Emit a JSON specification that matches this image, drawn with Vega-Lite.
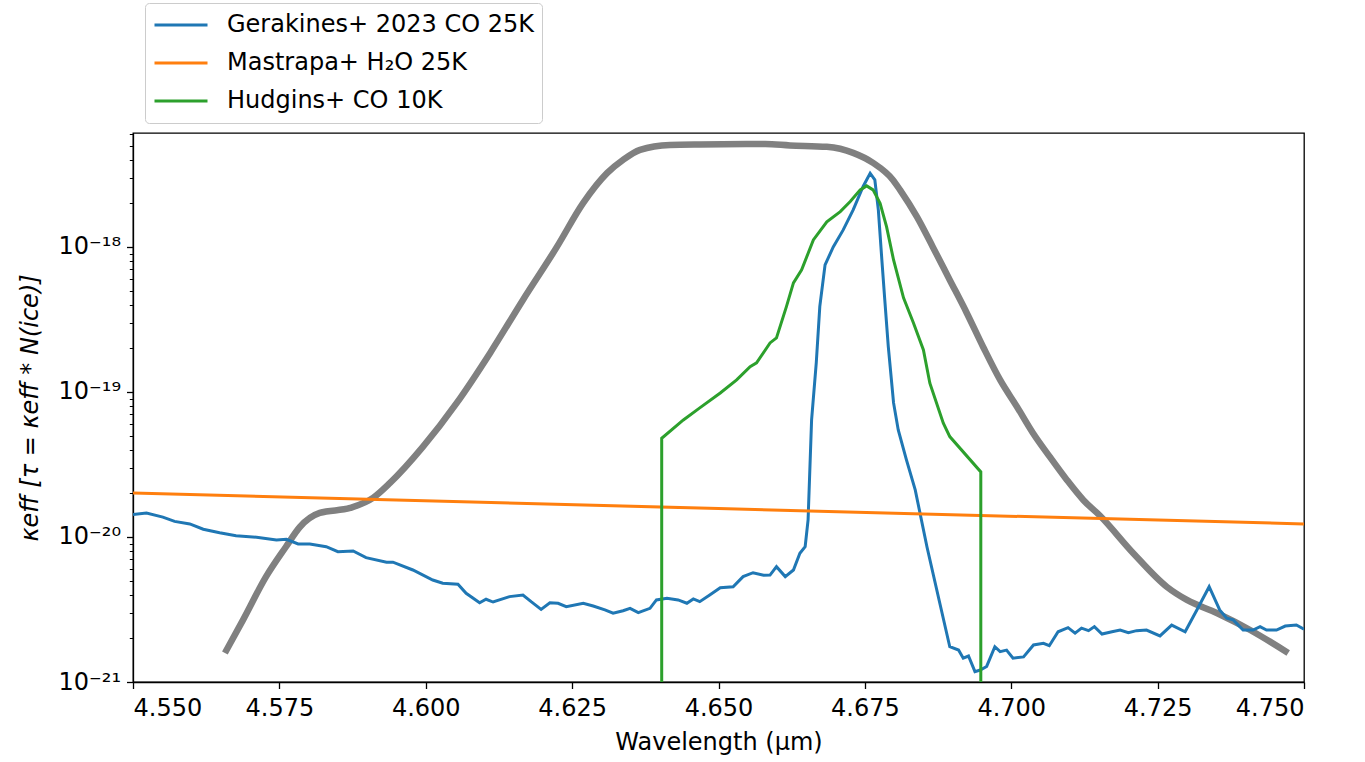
{
  "$schema": "https://vega.github.io/schema/vega-lite/v6.json",
  "width": 1171,
  "height": 549,
  "autosize": {"type": "none"},
  "padding": {"left": 133, "top": 133, "right": 61, "bottom": 80},
  "background": "white",
  "config": {
    "font": "DejaVu Sans",
    "view": {"stroke": "black", "strokeWidth": 1.3},
    "axis": {
      "grid": false,
      "domainColor": "black",
      "domainWidth": 1.3,
      "tickColor": "black",
      "tickWidth": 1.3,
      "labelColor": "black",
      "labelFont": "DejaVu Sans",
      "labelFontSize": 24,
      "titleFont": "DejaVu Sans",
      "titleFontSize": 24,
      "titleFontWeight": "normal",
      "titleColor": "black",
      "labelOverlap": false
    },
    "legend": {
      "labelFont": "DejaVu Sans",
      "labelFontSize": 24,
      "labelColor": "black",
      "labelLimit": 600
    }
  },
  "datasets": {
    "filter": [
      {"wavelength": 4.5657, "kappa": 1.585e-21},
      {"wavelength": 4.5688, "kappa": 2.68e-21},
      {"wavelength": 4.5727, "kappa": 5.30e-21},
      {"wavelength": 4.5761, "kappa": 8.53e-21},
      {"wavelength": 4.5785, "kappa": 1.172e-20},
      {"wavelength": 4.5819, "kappa": 1.464e-20},
      {"wavelength": 4.5871, "kappa": 1.585e-20},
      {"wavelength": 4.5910, "kappa": 1.858e-20},
      {"wavelength": 4.5939, "kappa": 2.357e-20},
      {"wavelength": 4.5995, "kappa": 4.175e-20},
      {"wavelength": 4.6053, "kappa": 8.40e-20},
      {"wavelength": 4.6110, "kappa": 1.858e-19},
      {"wavelength": 4.6166, "kappa": 4.31e-19},
      {"wavelength": 4.6224, "kappa": 1.0e-18},
      {"wavelength": 4.6269, "kappa": 2.011e-18},
      {"wavelength": 4.6310, "kappa": 3.238e-18},
      {"wavelength": 4.6337, "kappa": 3.981e-18},
      {"wavelength": 4.6366, "kappa": 4.667e-18},
      {"wavelength": 4.6417, "kappa": 5.05e-18},
      {"wavelength": 4.6468, "kappa": 5.09e-18},
      {"wavelength": 4.6580, "kappa": 5.12e-18},
      {"wavelength": 4.6622, "kappa": 5.01e-18},
      {"wavelength": 4.6685, "kappa": 4.895e-18},
      {"wavelength": 4.6730, "kappa": 4.45e-18},
      {"wavelength": 4.6764, "kappa": 3.795e-18},
      {"wavelength": 4.6798, "kappa": 2.897e-18},
      {"wavelength": 4.6810, "kappa": 2.473e-18},
      {"wavelength": 4.6839, "kappa": 1.61e-18},
      {"wavelength": 4.6866, "kappa": 1.0e-18},
      {"wavelength": 4.6895, "kappa": 5.92e-19},
      {"wavelength": 4.6924, "kappa": 3.505e-19},
      {"wavelength": 4.6952, "kappa": 2.043e-19},
      {"wavelength": 4.6981, "kappa": 1.21e-19},
      {"wavelength": 4.7010, "kappa": 7.88e-20},
      {"wavelength": 4.7037, "kappa": 5.215e-20},
      {"wavelength": 4.7066, "kappa": 3.562e-20},
      {"wavelength": 4.7095, "kappa": 2.473e-20},
      {"wavelength": 4.7123, "kappa": 1.80e-20},
      {"wavelength": 4.7152, "kappa": 1.395e-20},
      {"wavelength": 4.7208, "kappa": 7.76e-21},
      {"wavelength": 4.7266, "kappa": 4.52e-21},
      {"wavelength": 4.7300, "kappa": 3.68e-21},
      {"wavelength": 4.7351, "kappa": 2.99e-21},
      {"wavelength": 4.7408, "kappa": 2.284e-21},
      {"wavelength": 4.7473, "kappa": 1.585e-21}
    ],
    "gerakines": [
      {"wavelength": 4.55, "kappa": 1.43e-20},
      {"wavelength": 4.5523, "kappa": 1.46e-20},
      {"wavelength": 4.5551, "kappa": 1.37e-20},
      {"wavelength": 4.5571, "kappa": 1.28e-20},
      {"wavelength": 4.5597, "kappa": 1.23e-20},
      {"wavelength": 4.5620, "kappa": 1.13e-20},
      {"wavelength": 4.5648, "kappa": 1.07e-20},
      {"wavelength": 4.5676, "kappa": 1.02e-20},
      {"wavelength": 4.5711, "kappa": 9.95e-21},
      {"wavelength": 4.5745, "kappa": 9.53e-21},
      {"wavelength": 4.5762, "kappa": 9.64e-21},
      {"wavelength": 4.5782, "kappa": 8.95e-21},
      {"wavelength": 4.5802, "kappa": 8.95e-21},
      {"wavelength": 4.5830, "kappa": 8.57e-21},
      {"wavelength": 4.5850, "kappa": 7.92e-21},
      {"wavelength": 4.5876, "kappa": 8.0e-21},
      {"wavelength": 4.5898, "kappa": 7.2e-21},
      {"wavelength": 4.5933, "kappa": 6.69e-21},
      {"wavelength": 4.5944, "kappa": 6.7e-21},
      {"wavelength": 4.5978, "kappa": 5.92e-21},
      {"wavelength": 4.6012, "kappa": 5.05e-21},
      {"wavelength": 4.6029, "kappa": 4.8e-21},
      {"wavelength": 4.6055, "kappa": 4.72e-21},
      {"wavelength": 4.6069, "kappa": 4.09e-21},
      {"wavelength": 4.6092, "kappa": 3.52e-21},
      {"wavelength": 4.6103, "kappa": 3.72e-21},
      {"wavelength": 4.6115, "kappa": 3.56e-21},
      {"wavelength": 4.6143, "kappa": 3.88e-21},
      {"wavelength": 4.6166, "kappa": 3.98e-21},
      {"wavelength": 4.6180, "kappa": 3.58e-21},
      {"wavelength": 4.6197, "kappa": 3.17e-21},
      {"wavelength": 4.6212, "kappa": 3.52e-21},
      {"wavelength": 4.6226, "kappa": 3.49e-21},
      {"wavelength": 4.6240, "kappa": 3.31e-21},
      {"wavelength": 4.6269, "kappa": 3.49e-21},
      {"wavelength": 4.6286, "kappa": 3.34e-21},
      {"wavelength": 4.6306, "kappa": 3.14e-21},
      {"wavelength": 4.6320, "kappa": 2.98e-21},
      {"wavelength": 4.6337, "kappa": 3.1e-21},
      {"wavelength": 4.6349, "kappa": 3.22e-21},
      {"wavelength": 4.6363, "kappa": 3.01e-21},
      {"wavelength": 4.6383, "kappa": 3.22e-21},
      {"wavelength": 4.6394, "kappa": 3.68e-21},
      {"wavelength": 4.6412, "kappa": 3.78e-21},
      {"wavelength": 4.6431, "kappa": 3.68e-21},
      {"wavelength": 4.6446, "kappa": 3.49e-21},
      {"wavelength": 4.6457, "kappa": 3.74e-21},
      {"wavelength": 4.6468, "kappa": 3.58e-21},
      {"wavelength": 4.6485, "kappa": 3.98e-21},
      {"wavelength": 4.6503, "kappa": 4.47e-21},
      {"wavelength": 4.6525, "kappa": 4.54e-21},
      {"wavelength": 4.6542, "kappa": 5.33e-21},
      {"wavelength": 4.6559, "kappa": 5.67e-21},
      {"wavelength": 4.6577, "kappa": 5.45e-21},
      {"wavelength": 4.6588, "kappa": 5.46e-21},
      {"wavelength": 4.6599, "kappa": 6.24e-21},
      {"wavelength": 4.6614, "kappa": 5.33e-21},
      {"wavelength": 4.6628, "kappa": 5.92e-21},
      {"wavelength": 4.6639, "kappa": 7.72e-21},
      {"wavelength": 4.6648, "kappa": 8.57e-21},
      {"wavelength": 4.6653, "kappa": 1.31e-20},
      {"wavelength": 4.6659, "kappa": 6.41e-20},
      {"wavelength": 4.6667, "kappa": 1.59e-19},
      {"wavelength": 4.6673, "kappa": 3.88e-19},
      {"wavelength": 4.6682, "kappa": 7.51e-19},
      {"wavelength": 4.6696, "kappa": 1.0e-18},
      {"wavelength": 4.6713, "kappa": 1.31e-18},
      {"wavelength": 4.6730, "kappa": 1.8e-18},
      {"wavelength": 4.6747, "kappa": 2.61e-18},
      {"wavelength": 4.6759, "kappa": 3.22e-18},
      {"wavelength": 4.6767, "kappa": 2.9e-18},
      {"wavelength": 4.6773, "kappa": 1.8e-18},
      {"wavelength": 4.6779, "kappa": 8.13e-19},
      {"wavelength": 4.6784, "kappa": 4.31e-19},
      {"wavelength": 4.6790, "kappa": 2.05e-19},
      {"wavelength": 4.6799, "kappa": 8.4e-20},
      {"wavelength": 4.6807, "kappa": 5.47e-20},
      {"wavelength": 4.6821, "kappa": 3.4e-20},
      {"wavelength": 4.6836, "kappa": 2.11e-20},
      {"wavelength": 4.6856, "kappa": 8.57e-21},
      {"wavelength": 4.6878, "kappa": 3.49e-21},
      {"wavelength": 4.6895, "kappa": 1.75e-21},
      {"wavelength": 4.6910, "kappa": 1.66e-21},
      {"wavelength": 4.6918, "kappa": 1.46e-21},
      {"wavelength": 4.6927, "kappa": 1.51e-21},
      {"wavelength": 4.6938, "kappa": 1.18e-21},
      {"wavelength": 4.6947, "kappa": 1.21e-21},
      {"wavelength": 4.6958, "kappa": 1.28e-21},
      {"wavelength": 4.6972, "kappa": 1.75e-21},
      {"wavelength": 4.6981, "kappa": 1.62e-21},
      {"wavelength": 4.6992, "kappa": 1.66e-21},
      {"wavelength": 4.7003, "kappa": 1.46e-21},
      {"wavelength": 4.7021, "kappa": 1.49e-21},
      {"wavelength": 4.7038, "kappa": 1.8e-21},
      {"wavelength": 4.7055, "kappa": 1.85e-21},
      {"wavelength": 4.7065, "kappa": 1.78e-21},
      {"wavelength": 4.7080, "kappa": 2.22e-21},
      {"wavelength": 4.7097, "kappa": 2.37e-21},
      {"wavelength": 4.7109, "kappa": 2.17e-21},
      {"wavelength": 4.7120, "kappa": 2.35e-21},
      {"wavelength": 4.7132, "kappa": 2.26e-21},
      {"wavelength": 4.7142, "kappa": 2.41e-21},
      {"wavelength": 4.7155, "kappa": 2.14e-21},
      {"wavelength": 4.7172, "kappa": 2.22e-21},
      {"wavelength": 4.7186, "kappa": 2.28e-21},
      {"wavelength": 4.7200, "kappa": 2.19e-21},
      {"wavelength": 4.7214, "kappa": 2.26e-21},
      {"wavelength": 4.7231, "kappa": 2.28e-21},
      {"wavelength": 4.7254, "kappa": 2.08e-21},
      {"wavelength": 4.7274, "kappa": 2.47e-21},
      {"wavelength": 4.7297, "kappa": 2.22e-21},
      {"wavelength": 4.7317, "kappa": 3.14e-21},
      {"wavelength": 4.7338, "kappa": 4.54e-21},
      {"wavelength": 4.7356, "kappa": 3.14e-21},
      {"wavelength": 4.7368, "kappa": 2.75e-21},
      {"wavelength": 4.7379, "kappa": 2.68e-21},
      {"wavelength": 4.7396, "kappa": 2.28e-21},
      {"wavelength": 4.7413, "kappa": 2.28e-21},
      {"wavelength": 4.7425, "kappa": 2.41e-21},
      {"wavelength": 4.7436, "kappa": 2.28e-21},
      {"wavelength": 4.7453, "kappa": 2.28e-21},
      {"wavelength": 4.7468, "kappa": 2.43e-21},
      {"wavelength": 4.7487, "kappa": 2.47e-21},
      {"wavelength": 4.75, "kappa": 2.31e-21}
    ],
    "mastrapa": [
      {"wavelength": 4.55, "kappa": 2.01e-20},
      {"wavelength": 4.65, "kappa": 1.57e-20},
      {"wavelength": 4.75, "kappa": 1.23e-20}
    ],
    "hudgins": [
      {"wavelength": 4.6403, "kappa": 1e-22},
      {"wavelength": 4.6403, "kappa": 4.795e-20},
      {"wavelength": 4.6440, "kappa": 6.41e-20},
      {"wavelength": 4.6468, "kappa": 7.76e-20},
      {"wavelength": 4.6503, "kappa": 9.84e-20},
      {"wavelength": 4.6531, "kappa": 1.21e-19},
      {"wavelength": 4.6554, "kappa": 1.494e-19},
      {"wavelength": 4.6565, "kappa": 1.585e-19},
      {"wavelength": 4.6588, "kappa": 2.177e-19},
      {"wavelength": 4.6599, "kappa": 2.357e-19},
      {"wavelength": 4.6616, "kappa": 3.875e-19},
      {"wavelength": 4.6628, "kappa": 5.645e-19},
      {"wavelength": 4.6642, "kappa": 6.94e-19},
      {"wavelength": 4.6662, "kappa": 1.118e-18},
      {"wavelength": 4.6685, "kappa": 1.487e-18},
      {"wavelength": 4.6708, "kappa": 1.751e-18},
      {"wavelength": 4.6725, "kappa": 2.053e-18},
      {"wavelength": 4.6742, "kappa": 2.473e-18},
      {"wavelength": 4.6753, "kappa": 2.635e-18},
      {"wavelength": 4.6764, "kappa": 2.473e-18},
      {"wavelength": 4.6776, "kappa": 2.0e-18},
      {"wavelength": 4.6787, "kappa": 1.38e-18},
      {"wavelength": 4.6799, "kappa": 8.13e-19},
      {"wavelength": 4.6816, "kappa": 4.45e-19},
      {"wavelength": 4.6833, "kappa": 2.99e-19},
      {"wavelength": 4.6850, "kappa": 1.949e-19},
      {"wavelength": 4.6861, "kappa": 1.148e-19},
      {"wavelength": 4.6884, "kappa": 6.085e-20},
      {"wavelength": 4.6895, "kappa": 4.92e-20},
      {"wavelength": 4.6948, "kappa": 2.808e-20},
      {"wavelength": 4.6948, "kappa": 1e-22}
    ]
  },
  "encoding": {
    "x": {
      "field": "wavelength",
      "type": "quantitative",
      "scale": {"domain": [4.55, 4.75], "nice": false, "zero": false},
      "axis": {
        "title": "Wavelength (μm)",
        "values": [4.55, 4.575, 4.6, 4.625, 4.65, 4.675, 4.7, 4.725, 4.75],
        "format": ".3f",
        "tickSize": 6.5,
        "labelPadding": 8,
        "titlePadding": 10
      }
    },
    "y": {
      "field": "kappa",
      "type": "quantitative",
      "scale": {"type": "log", "domain": [1e-21, 6.1e-18], "nice": false},
      "axis": {
        "title": "κeff [τ = κeff * N(ice)]",
        "titleFontStyle": "italic",
        "values": [1e-21, 2e-21, 3e-21, 4e-21, 5e-21, 6e-21, 7e-21, 8e-21, 9e-21,
                   1e-20, 2e-20, 3e-20, 4e-20, 5e-20, 6e-20, 7e-20, 8e-20, 9e-20,
                   1e-19, 2e-19, 3e-19, 4e-19, 5e-19, 6e-19, 7e-19, 8e-19, 9e-19,
                   1e-18, 2e-18, 3e-18, 4e-18, 5e-18, 6e-18],
        "labelExpr": "abs(log(datum.value)/LN10 - round(log(datum.value)/LN10)) > 0.001 ? '' : (round(log(datum.value)/LN10) == -21 ? '10⁻²¹' : round(log(datum.value)/LN10) == -20 ? '10⁻²⁰' : round(log(datum.value)/LN10) == -19 ? '10⁻¹⁹' : '10⁻¹⁸')",
        "tickSize": {"condition": {"test": "abs(log(datum.value)/LN10 - round(log(datum.value)/LN10)) < 0.001", "value": 6.5}, "value": 3.7},
        "tickWidth": {"condition": {"test": "abs(log(datum.value)/LN10 - round(log(datum.value)/LN10)) < 0.001", "value": 1.3}, "value": 1},
        "labelPadding": 6,
        "titlePadding": 16
      }
    },
    "order": {"value": null}
  },
  "layer": [
    {
      "data": {"name": "filter"},
      "mark": {"type": "line", "color": "#808080", "strokeWidth": 6.5, "clip": true, "interpolate": "monotone"}
    },
    {
      "data": {"name": "gerakines"},
      "mark": {"type": "line", "strokeWidth": 3, "clip": true},
      "encoding": {
        "color": {
          "datum": "Gerakines+ 2023 CO 25K",
          "type": "nominal",
          "scale": {
            "domain": ["Gerakines+ 2023 CO 25K", "Mastrapa+ H₂O 25K", "Hudgins+ CO 10K"],
            "range": ["#1f77b4", "#ff7f0e", "#2ca02c"]
          },
          "legend": {
            "title": null,
            "orient": "none",
            "legendX": 12,
            "legendY": -130,
            "symbolType": "stroke",
            "symbolSize": 2809,
            "symbolStrokeWidth": 3,
            "labelOffset": 18,
            "labelLimit": 600,
            "clipHeight": 28,
            "rowPadding": 10,
            "padding": 8,
            "strokeColor": "#cccccc",
            "fillColor": "white",
            "cornerRadius": 4
          }
        }
      }
    },
    {
      "data": {"name": "mastrapa"},
      "mark": {"type": "line", "strokeWidth": 3, "clip": true},
      "encoding": {"color": {"datum": "Mastrapa+ H₂O 25K", "type": "nominal"}}
    },
    {
      "data": {"name": "hudgins"},
      "mark": {"type": "line", "strokeWidth": 3, "clip": true},
      "encoding": {"color": {"datum": "Hudgins+ CO 10K", "type": "nominal"}}
    }
  ]
}
